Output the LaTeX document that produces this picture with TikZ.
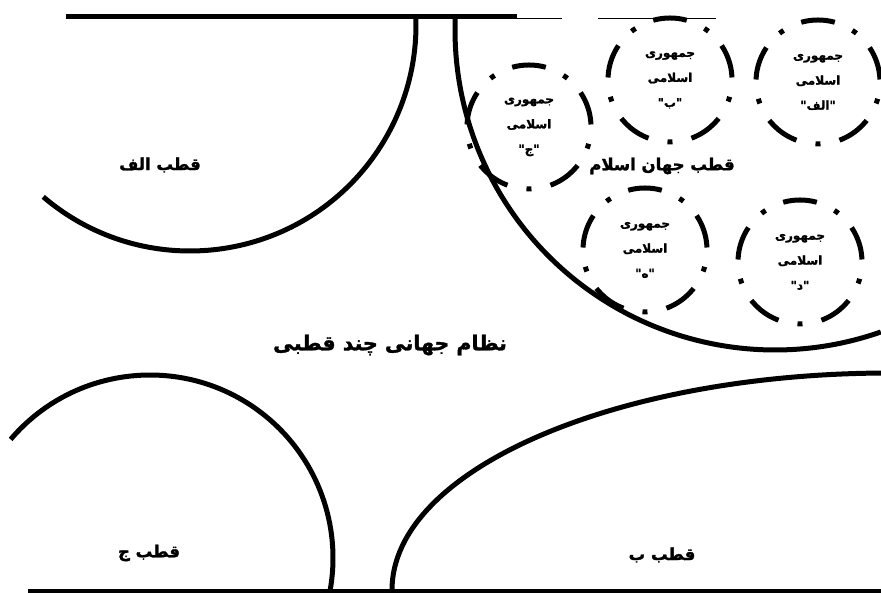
\documentclass[tikz,border=0pt]{standalone}
\usepackage{fontspec}
\newfontfamily\arabicfont[Script=Arabic,FakeBold=1.6]{DejaVu Sans Bold}
\TeXXeTstate=1
\begin{document}
\begin{tikzpicture}[x=1pt,y=1pt,
  heavy/.style={line width=5pt},
  thinline/.style={line width=1.5pt},
  statecircle/.style={line width=5pt, dash pattern=on 34pt off 19.45pt on 5pt off 19.45pt, dash phase=75.4pt},
  bigtext/.style={font=\arabicfont\fontsize{20.5}{24}\selectfont, inner sep=0pt},
  poletext/.style={font=\arabicfont\fontsize{16.5}{19}\selectfont, inner sep=0pt},
  statetext/.style={font=\arabicfont\fontsize{12}{25}\selectfont, align=center, inner sep=0pt}]
\useasboundingbox (0,0) rectangle (881,594);
% frame lines
\coordinate (tl1) at (66,577);
\coordinate (tl2) at (517,577);
\coordinate (tt1) at (517,575.5);
\coordinate (tt2) at (562,575.5);
\coordinate (tt3) at (598,575.5);
\coordinate (tt4) at (716,575.5);
\coordinate (bl1) at (28,3);
\coordinate (bl2) at (881,3);
\draw[heavy] (tl1) -- (tl2);
\draw[thinline] (tt1) -- (tt2);
\draw[thinline] (tt3) -- (tt4);
\draw[line width=4pt] (bl1) -- (bl2);
% pole A
\coordinate (ca) at (190,569);
\draw[heavy] (ca) ++(229.5:226) arc[start angle=229.5, end angle=362, radius=226];
% Islamic world pole
\coordinate (ci) at (775,564);
\draw[heavy] (ci) ++(177.7:320) arc[start angle=177.7, end angle=289.3, radius=320];
% pole C
\coordinate (cc) at (150,36);
\draw[heavy] (cc) ++(139.6:183) arc[start angle=139.6, end angle=-10, radius=183];
% pole B
\coordinate (cb) at (890,4);
\draw[heavy] (cb) ++(180:498 and 217) arc[start angle=180, end angle=91, x radius=498, y radius=217];
% state circles
\coordinate (s1) at (818,512);
\coordinate (s2) at (670,514);
\coordinate (s3) at (529,467);
\coordinate (s4) at (800,332);
\coordinate (s5) at (645,344);
\foreach \c in {s1,s2,s3,s4,s5} \draw[statecircle] (\c) circle[radius=62];
\node[statetext] (t1) at (s1) {\beginR جمهوری\endR\\\beginR اسلامی\endR\\\beginR "الف"\endR};
\node[statetext] (t2) at (s2) {\beginR جمهوری\endR\\\beginR اسلامی\endR\\\beginR "ب"\endR};
\node[statetext] (t3) at (s3) {\beginR جمهوری\endR\\\beginR اسلامی\endR\\\beginR "ج"\endR};
\node[statetext] (t4) at (s4) {\beginR جمهوری\endR\\\beginR اسلامی\endR\\\beginR "د"\endR};
\node[statetext] (t5) at (s5) {\beginR جمهوری\endR\\\beginR اسلامی\endR\\\beginR "ه"\endR};
% labels
\node[poletext] (la) at (160,429) {\beginR قطب الف\endR};
\node[poletext] (li) at (662,428) {\beginR قطب جهان اسلام\endR};
\node[bigtext] (lw) at (390,249) {\beginR نظام جهانی چند قطبی\endR};
\node[poletext] (lc) at (149,41) {\beginR قطب ج\endR};
\node[poletext] (lb) at (662,39) {\beginR قطب ب\endR};
\end{tikzpicture}
\end{document}
